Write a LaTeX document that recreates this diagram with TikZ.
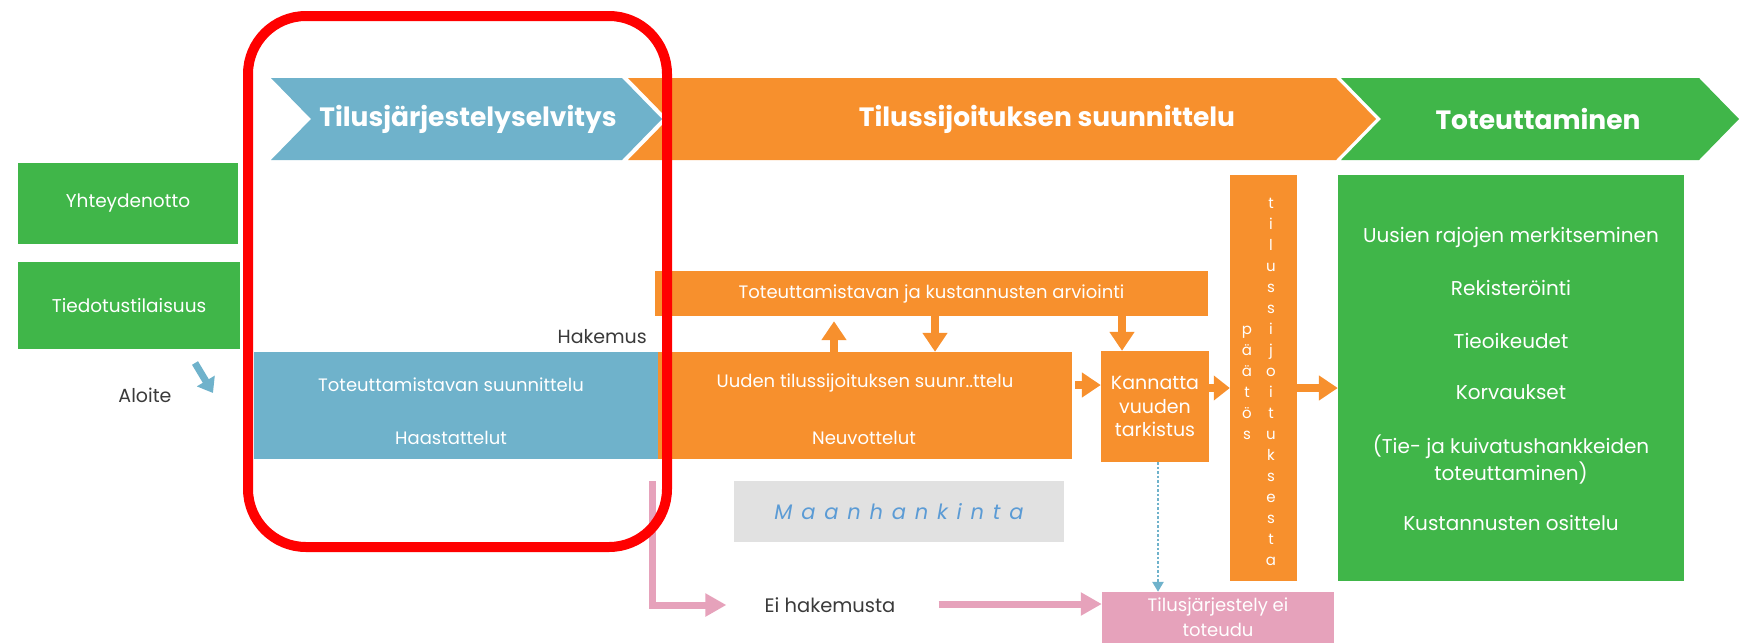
\documentclass[tikz,border=0pt]{standalone}
\usepackage{fontspec}
\setmainfont{Poppins}
\usetikzlibrary{arrows.meta}
\definecolor{selvblue}{HTML}{6FB2CB}
\definecolor{suunorange}{HTML}{F7902D}
\definecolor{totgreen}{HTML}{40B649}
\definecolor{eipink}{HTML}{E6A2BB}
\definecolor{maangray}{HTML}{E1E1E1}
\definecolor{maanblue}{HTML}{5B9BD5}
\definecolor{txtgray}{HTML}{3A3A3A}
\def\fs#1#2{\fontsize{#1}{#2}\selectfont}

\begin{document}
\begin{tikzpicture}[x=1pt,y=-1pt,
	gbox/.style={fill=totgreen, text=white, inner sep=0pt},
	obox/.style={fill=suunorange, text=white, inner sep=0pt},
	bbox/.style={fill=selvblue, text=white, inner sep=0pt},
	lbl/.style={text=white, inner sep=0pt, font=\fs{18}{22}},
	note/.style={text=txtgray, inner sep=0pt, font=\fs{19}{22}},
	title/.style={text=white, inner sep=0pt, font=\bfseries\fs{26.5}{30}},
	oarr/.style={draw=suunorange, line width=8.5pt, -{Triangle[width=24pt,length=19pt]}},
	parr/.style={draw=eipink, line width=7pt, -{Triangle[width=22pt,length=21pt]}}]
		%%%%% START %%%%%
		\useasboundingbox (0,0) rectangle (1747,643);
		
		% vaiheet
		\fill[selvblue] (271,78) -- (622,78) -- (662,119) -- (622,160) -- (271,160) -- (311,119) -- cycle;
		\fill[suunorange] (628,78) -- (1336,78) -- (1376,119) -- (1336,160) -- (628,160) -- (668,119) -- cycle;
		\fill[totgreen] (1341,78) -- (1699,78) -- (1739,119) -- (1699,160) -- (1341,160) -- (1381,119) -- cycle;
		\node[title] (tselv) at (468,119) {Tilusjärjestelyselvitys};
		\node[title] (tsuun) at (1047,119) {Tilussijoituksen suunnittelu};
		\node[title] (ttot) at (1538,119) {Toteuttaminen};
		
		% aloitus
		\node[gbox, minimum width=220pt, minimum height=81pt, font=\fs{18.5}{22}] (yht) at (128,203.5) {Yhteydenotto};
		\node[gbox, minimum width=222pt, minimum height=87pt, font=\fs{18.5}{22}] (tied) at (129,305.5) {Tiedotustilaisuus};
		\node[note] (aloite) at (145,395) {Aloite};
		\coordinate (astart) at (195,363);
		\coordinate (aend) at (213,393);
		\draw[selvblue, line width=7pt, -{Triangle[width=20pt,length=14pt]}] (astart) -- (aend);
		
		% selvitys
		\node[bbox, minimum width=404pt, minimum height=107pt] (selv) at (456,405.5) {};
		\node[lbl] (selv1) at (451,385) {Toteuttamistavan suunnittelu};
		\node[lbl] (selv2) at (451,438) {Haastattelut};
		\node[note, anchor=east] (hak) at (647,337) {Hakemus};
		
		% suunnittelu
		\node[obox, minimum width=553pt, minimum height=45pt, font=\fs{18}{22}] (arvio) at (931.5,293.5) {Toteuttamistavan ja kustannusten arviointi};
		\node[obox, minimum width=414pt, minimum height=107pt] (uuden) at (865,405.5) {};
		\node[lbl] (uuden1) at (865,383) {Uuden tilussijoituksen suunr..ttelu};
		\node[lbl] (uuden2) at (864,438) {Neuvottelut};
		\node[obox, minimum width=108pt, minimum height=111pt, align=center, font=\fs{19}{23.5}] (kann) at (1155,406.5) {Kannatta\\vuuden\\tarkistus};
		
		\coordinate (xup) at (834,0);
		\coordinate (xdown) at (935,0);
		\coordinate (xkann) at (1122,0);
		\draw[oarr, shorten >=5pt] (xup |- uuden.north) -- (xup |- arvio.south);
		\draw[oarr] (xdown |- arvio.south) -- (xdown |- uuden.north);
		\draw[oarr] (xkann |- arvio.south) -- (xkann |- kann.north);
		\coordinate (yk) at (0,385);
		\draw[oarr, shorten <=3pt] (yk -| uuden.east) -- (yk -| kann.west);
		
		% paatos
		\node[obox, minimum width=67pt, minimum height=406pt] (paatos) at (1263.5,378) {};
		\foreach \c [count=\i] in {t,i,l,u,s,s,i,j,o,i,t,u,k,s,e,s,t,a}
			\node[lbl, font=\fs{15}{15}, anchor=base] (til\i) at (1271,187+21*\i) {\c};
		\foreach \c [count=\i] in {p,ä,ä,t,ö,s}
			\node[lbl, font=\fs{15}{15}, anchor=base] (paa\i) at (1247,313+21*\i) {\c};
		\coordinate (yp) at (0,388);
		\draw[oarr, -{Triangle[width=24pt,length=16pt]}] (yp -| kann.east) -- (yp -| paatos.west);
		
		% toteuttaminen
		\node[gbox, minimum width=346pt, minimum height=406pt] (tot) at (1511,378) {};
		\draw[oarr] (yp -| paatos.east) -- (yp -| tot.west);
		\node[lbl, font=\fs{20}{24}] (tot1) at (1511,237) {Uusien rajojen merkitseminen};
		\node[lbl, font=\fs{20}{24}] (tot2) at (1511,288) {Rekisteröinti};
		\node[lbl, font=\fs{20}{24}] (tot3) at (1511,341) {Tieoikeudet};
		\node[lbl, font=\fs{20}{24}] (tot4) at (1511,392) {Korvaukset};
		\node[lbl, font=\fs{20}{27}, align=center] (tot5) at (1511,459.5) {(Tie- ja kuivatushankkeiden\\toteuttaminen)};
		\node[lbl, font=\fs{20}{24}] (tot6) at (1511,523) {Kustannusten osittelu};
		
		% maanhankinta
		\node[fill=maangray, minimum width=330pt, minimum height=61pt, inner sep=0pt, text=maanblue, font=\itshape\fs{21}{24}\addfontfeatures{LetterSpace=42}] (maan) at (899,511.5) {Maanhankinta};
		
		% ei toteudu
		\node[fill=eipink, minimum width=232pt, minimum height=51pt, inner sep=0pt, text=white, align=center, font=\fs{18}{25}] (eiei) at (1218,617.5) {Tilusjärjestely ei\\toteudu};
		\node[note, font=\fs{19.5}{22}] (eihak) at (830,605) {Ei hakemusta};
		\coordinate (pstart) at (652,481);
		\draw[parr, shorten >=38pt] (pstart) |- (eihak.west);
		\coordinate (ye) at (0,604);
		\draw[parr, shorten <=43pt] (ye -| eihak.east) -- (ye -| eiei.west);
		\coordinate (xdot) at (1158,0);
		\draw[selvblue, dotted, line width=2.5pt, -{Triangle[width=11pt,length=10pt]}] (xdot |- kann.south) -- (xdot |- eiei.north);
		
		% rajaus
		\draw[red, line width=10pt, rounded corners=58pt] (248,16) rectangle (667,547);
		
		%%%%% END %%%%%
\end{tikzpicture}
\end{document}
